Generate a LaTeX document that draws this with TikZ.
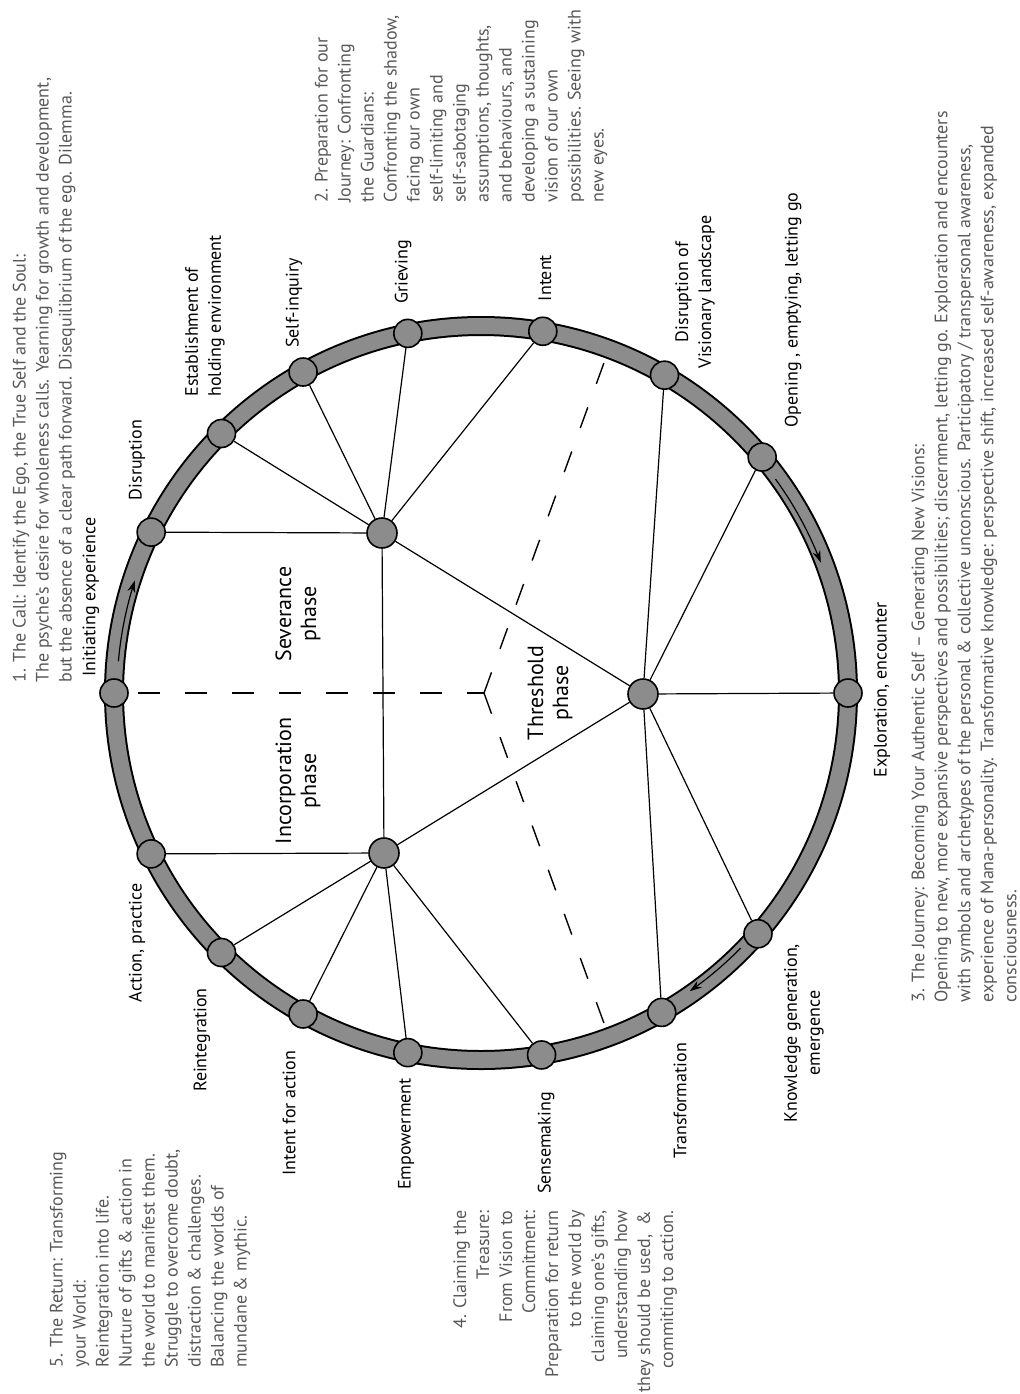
\documentclass[tikz,border=0pt]{standalone}
\usepackage{fontspec}
\setmainfont{PT Sans}
\usetikzlibrary{arrows.meta}

\definecolor{ringgray}{RGB}{140,140,140}
\definecolor{notegray}{RGB}{88,88,88}

\tikzset{
  ringdot/.style={circle, draw, fill=ringgray, line width=0.8pt, minimum size=14pt, inner sep=0pt},
  hub/.style={ringdot, minimum size=15pt},
  spoke/.style={line width=0.6pt},
  border/.style={line width=0.7pt, dash pattern=on 11pt off 12.5pt},
  stagelbl/.style={rotate=90, inner sep=0pt, align=center, font=\fontsize{9}{11.5}\selectfont},
  phaselbl/.style={rotate=90, inner sep=0pt, align=center, font=\fontsize{11}{12.5}\selectfont},
  notetext/.style={rotate=90, inner sep=0pt, align=left, text=notegray, font=\fontsize{9}{11.5}\selectfont}
}

\begin{document}
\begin{tikzpicture}[x=0.5pt, y=-0.5pt, >={Stealth[length=6pt,width=4pt]}]

\useasboundingbox (0,0) rectangle (1020,1394);

\def\cx{481}
\def\cy{693}
\def\rr{367}  % ring
\def\ra{364}  % arrows on the ring

%--- Ring ---
\coordinate (ctr) at (\cx,\cy);
\draw[line width=10pt] (ctr) circle[radius=183.5pt];
\draw[ringgray, line width=8pt] (ctr) circle[radius=183.5pt];

%--- Arrows along the ring ---
\foreach \a/\b in {185/198, 324/339, 44.5/55}{
  \draw[->, line width=0.6pt, domain=\a:\b, samples=20]
    plot ({\cx+\ra*cos(\x)},{\cy+\ra*sin(\x)});
}

%--- Stages on the ring ---
\foreach \nm/\ang in {init/180, disr/206, estab/225, selfinq/241, griev/258.5,
  intent/279.7, disvis/300, open/320, explor/0, knowl/41, transf/60.5,
  sense/80.5, empow/101.5, intact/119, reint/135, action/154}{
  \node[ringdot] (\nm) at ({\cx+\rr*cos(\ang)},{\cy+\rr*sin(\ang)}) {};
}

%--- Hubs ---
\node[hub] (sev) at (382,533) {};
\node[hub] (thr) at (643,694) {};
\node[hub] (inc) at (384,853) {};

%--- Spokes ---
\foreach \s in {disr,estab,selfinq,griev,intent,thr,inc}
  \draw[spoke] (sev) -- (\s);
\foreach \s in {disvis,open,explor,knowl,transf}
  \draw[spoke] (thr) -- (\s);
\foreach \s in {action,reint,intact,empow,sense,thr}
  \draw[spoke] (inc) -- (\s);

%--- Dashed phase borders ---
\coordinate (pj) at (484,693);
\coordinate (pl) at (138,693);
\coordinate (pu) at (605,360);
\coordinate (pd) at (605,1026);
\draw[border] (pl) -- (pj);
\draw[border] (pj) -- (pu);
\draw[border] (pj) -- (pd);

%--- Phase names ---
\node[phaselbl] (sevlbl) at (298,614) {Severance\\phase};
\node[phaselbl] (inclbl) at (298,781) {Incorporation\\phase};
\node[phaselbl] (thrlbl) at (550,693) {Threshold\\phase};

%--- Stage names ---
\node[stagelbl] (linit) at (91,597) {Initiating experience};
\node[stagelbl] (ldisr) at (137,460) {Disruption};
\node[stagelbl, align=left, anchor=west] (lestab) at (205,397) {Establishment of\\holding environment};
\node[stagelbl] (lselfinq) at (294,303) {Self-inquiry};
\node[stagelbl] (lgriev) at (403,272) {Grieving};
\node[stagelbl] (lintent) at (545,278) {Intent};
\node[stagelbl] (ldisvis) at (695,292) {Disruption of\\Visionary landscape};
\node[stagelbl] (lopen) at (793,310) {Opening , emptying, letting go};
\node[stagelbl] (lexplor) at (882,690) {Exploration, encounter};
\node[stagelbl] (lknowl) at (804,1033) {Knowledge generation,\\emergence};
\node[stagelbl] (ltransf) at (680,1101) {Transformation};
\node[stagelbl] (lsense) at (546,1143) {Sensemaking};
\node[stagelbl] (lempow) at (406,1134) {Empowerment};
\node[stagelbl] (lintact) at (289,1113) {Intent for action};
\node[stagelbl] (lreint) at (202,1040) {Reintegration};
\node[stagelbl] (laction) at (137,943) {Action, practice};

%--- Notes ---
\node[notetext, anchor=west] (note1) at (44,683)
  {1. The Call: Identify the Ego, the True Self and the Soul:\\
   The psyche’s desire for wholeness calls. Yearning for growth and development,\\
   but the absence of a clear path forward. Disequilibrium of the ego. Dilemma.};
\node[notetext, anchor=west] (note2) at (461,203)
  {2. Preparation for our\\Journey: Confronting\\the Guardians:\\Confronting the shadow,\\
   facing our own\\self-limiting and\\self-sabotaging\\assumptions, thoughts,\\
   and behaviours, and\\developing a sustaining\\vision of our own\\
   possibilities. Seeing with\\new eyes.};
\node[notetext, anchor=west] (note3) at (964,1003)
  {3. The Journey: Becoming Your Authentic Self – Generating New Visions:\\
   Opening to new, more expansive perspectives and possibilities; discernment, letting go. Exploration and encounters\\
   with symbols and archetypes of the personal \& collective unconscious. Participatory / transpersonal awareness,\\
   experience of Mana-personality. Transformative knowledge: perspective shift, increased self-awareness, expanded\\
   consciousness.};
\node[notetext, align=right, anchor=east] (note4) at (565,1210)
  {4. Claiming the\\Treasure:\\From Vision to\\Commitment:\\Preparation for return\\
   to the world by\\claiming one’s gifts,\\understanding how\\they should be used,~~\&\\
   commiting to action.};
\node[notetext, anchor=west] (note5) at (150,1368)
  {5. The Return: Transforming\\your World:\\Reintegration into life.\\
   Nurture of gifts \& action in\\the world to manifest them.\\
   Struggle to overcome doubt,\\distraction \& challenges.\\
   Balancing the worlds of\\mundane \& mythic.};

\end{tikzpicture}
\end{document}
